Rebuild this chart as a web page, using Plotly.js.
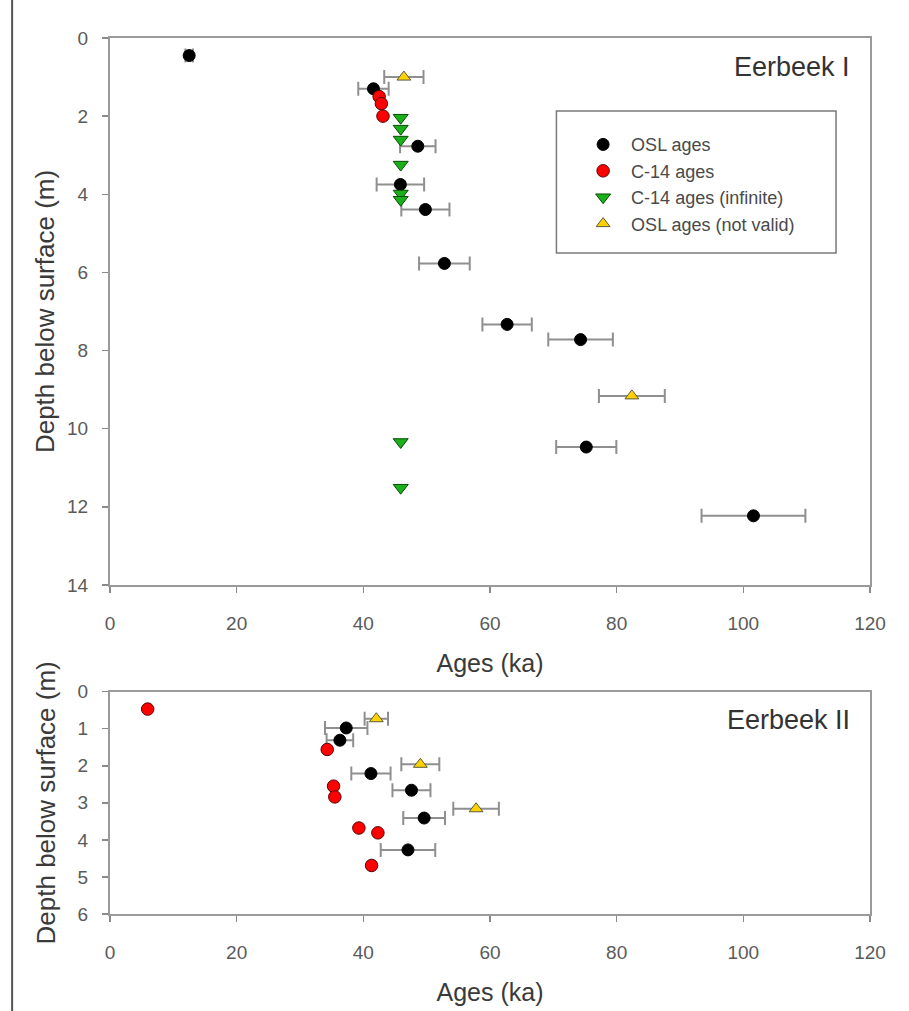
<!DOCTYPE html>
<html>
<head>
<meta charset="utf-8">
<script src="https://cdn.plot.ly/plotly-3.0.1.min.js"></script>
<style>
html,body{margin:0;padding:0;background:#fff;}
#chart{width:909px;height:1011px;}
</style>
</head>
<body>
<div id="chart"></div>
<script>
// ---- Eerbeek I ----
var oslAge1 = [12.5, 41.6, 48.6, 45.85, 49.8, 52.8, 62.7, 74.3, 75.2, 101.6];
var oslDepth1 = [0.45, 1.30, 2.77, 3.75, 4.39, 5.77, 7.33, 7.72, 10.47, 12.23];
var oslErr1 = [0.6, 2.4, 2.8, 3.75, 3.8, 4.0, 3.9, 5.1, 4.75, 8.2];
var c14Age1 = [42.5, 42.85, 43.1];
var c14Depth1 = [1.50, 1.68, 2.0];
var infAge1 = [45.9, 45.9, 45.9, 45.9, 45.9, 45.9, 45.9, 45.9];
var infDepth1 = [2.04, 2.32, 2.6, 3.24, 3.98, 4.14, 10.34, 11.51];
var invAge1 = [46.4, 82.4];
var invDepth1 = [1.0, 9.16];
var invErr1 = [3.1, 5.2];

// ---- Eerbeek II ----
var oslAge2 = [37.3, 36.3, 41.2, 47.6, 49.6, 47.05];
var oslDepth2 = [0.98, 1.31, 2.21, 2.66, 3.41, 4.27];
var oslErr2 = [3.35, 2.1, 3.1, 3.0, 3.3, 4.3];
var c14Age2 = [5.95, 34.3, 35.3, 35.5, 39.3, 42.3, 41.3];
var c14Depth2 = [0.47, 1.56, 2.55, 2.84, 3.68, 3.81, 4.69];
var invAge2 = [42.05, 49.0, 57.8];
var invDepth2 = [0.73, 1.96, 3.16];
var invErr2 = [1.85, 3.0, 3.6];

var seriesNames = ['OSL ages', 'C-14 ages', 'C-14 ages (infinite)', 'OSL ages (not valid)'];
var xTicks = [0, 20, 40, 60, 80, 100, 120];
var yTicks1 = [0, 2, 4, 6, 8, 10, 12, 14];
var yTicks2 = [0, 1, 2, 3, 4, 5, 6];

var errStyle = function(arr){ return {type:'data', array:arr, visible:true, color:'#8f8f8f', thickness:2, width:7}; };

var mOSL = {symbol:'circle', size:12, color:'#000000', line:{color:'#000000', width:1}};
var mC14 = {symbol:'circle', size:12.5, color:'#ff0000', line:{color:'#5a0000', width:1}};
var mInf = {symbol:'triangle-down', size:13, color:'#19b019', line:{color:'#0a4a0a', width:1}};
var mInv = {symbol:'triangle-up', size:12, color:'#ffd200', line:{color:'#5a5a3a', width:1}};

var traces = [
  {x:oslAge1, y:oslDepth1, error_x:errStyle(oslErr1), mode:'markers', type:'scatter', name:seriesNames[0], marker:mOSL, xaxis:'x', yaxis:'y'},
  {x:c14Age1, y:c14Depth1, mode:'markers', type:'scatter', name:seriesNames[1], marker:mC14, xaxis:'x', yaxis:'y'},
  {x:infAge1, y:infDepth1, mode:'markers', type:'scatter', name:seriesNames[2], marker:mInf, xaxis:'x', yaxis:'y'},
  {x:invAge1, y:invDepth1, error_x:errStyle(invErr1), mode:'markers', type:'scatter', name:seriesNames[3], marker:mInv, xaxis:'x', yaxis:'y'},
  {x:oslAge2, y:oslDepth2, error_x:errStyle(oslErr2), mode:'markers', type:'scatter', name:seriesNames[0], marker:mOSL, xaxis:'x2', yaxis:'y2', showlegend:false},
  {x:c14Age2, y:c14Depth2, mode:'markers', type:'scatter', name:seriesNames[1], marker:mC14, xaxis:'x2', yaxis:'y2', showlegend:false},
  {x:invAge2, y:invDepth2, error_x:errStyle(invErr2), mode:'markers', type:'scatter', name:seriesNames[3], marker:mInv, xaxis:'x2', yaxis:'y2', showlegend:false}
];

var FONT = 'Liberation Sans, Arial, sans-serif';
var tickFont = {family:FONT, size:19, color:'#5a5a5a'};
var titleFont = {family:FONT, size:25, color:'#3a3a3a'};

function xAx(anchor){
  return {
    anchor: anchor, range:[0,120], tickvals:xTicks, ticktext:xTicks.map(String),
    showline:true, linecolor:'#9a9a9a', linewidth:2, mirror:true,
    ticks:'outside', ticklen:6, tickwidth:1.5, tickcolor:'#8a8a8a',
    showgrid:false, zeroline:false, tickfont:tickFont, ticklabelstandoff:14,
    title:{text:'Ages (ka)', font:titleFont, standoff:22}
  };
}
function yAx(anchor, rng, vals, domain, standoff){
  return {
    anchor: anchor, range:rng, domain:domain, tickvals:vals, ticktext:vals.map(String),
    showline:true, linecolor:'#9a9a9a', linewidth:2, mirror:true,
    ticks:'outside', ticklen:6, tickwidth:1.5, tickcolor:'#8a8a8a',
    showgrid:false, zeroline:false, tickfont:tickFont, ticklabelstandoff:10,
    title:{text:'Depth below surface (m)', font:{family:FONT, size:26, color:'#3a3a3a'}, standoff:standoff}
  };
}

var layout = {
  width:909, height:1011,
  margin:{l:110, r:39, t:38, b:97},
  paper_bgcolor:'#ffffff', plot_bgcolor:'#ffffff',
  showlegend:true,
  xaxis: xAx('y'),
  yaxis: yAx('x', [14,0], yTicks1, [0.3756,1], 5),
  xaxis2: xAx('y2'),
  yaxis2: yAx('x2', [6,0], yTicks2, [0,0.2538], 15),
  legend:{x:0.612, y:0.8993, xanchor:'left', yanchor:'top', bgcolor:'rgba(0,0,0,0)', borderwidth:0,
          font:{family:FONT, size:18, color:'#4a4a4a'}, itemwidth:46, tracegroupgap:0},
  shapes:[
    {type:'rect', xref:'paper', yref:'paper', x0:0.5874, x1:0.9553, y0:0.7546, y1:0.9167,
     line:{color:'#7a7a7a', width:1.5}, fillcolor:'rgba(0,0,0,0)'},
    {type:'line', xref:'paper', yref:'paper', x0:-0.1288, x1:-0.1288, y0:-0.12, y1:1.05,
     line:{color:'#555555', width:2}}
  ],
  annotations:[
    {text:'Eerbeek I', xref:'paper', yref:'paper', x:0.9763, y:0.9669, xanchor:'right', yanchor:'middle',
     showarrow:false, font:{family:FONT, size:27, color:'#333333'}},
    {text:'Eerbeek II', xref:'paper', yref:'paper', x:0.9763, y:0.2215, xanchor:'right', yanchor:'middle',
     showarrow:false, font:{family:FONT, size:27, color:'#333333'}}
  ]
};

Plotly.newPlot('chart', traces, layout, {displayModeBar:false, staticPlot:true});
</script>
</body>
</html>
